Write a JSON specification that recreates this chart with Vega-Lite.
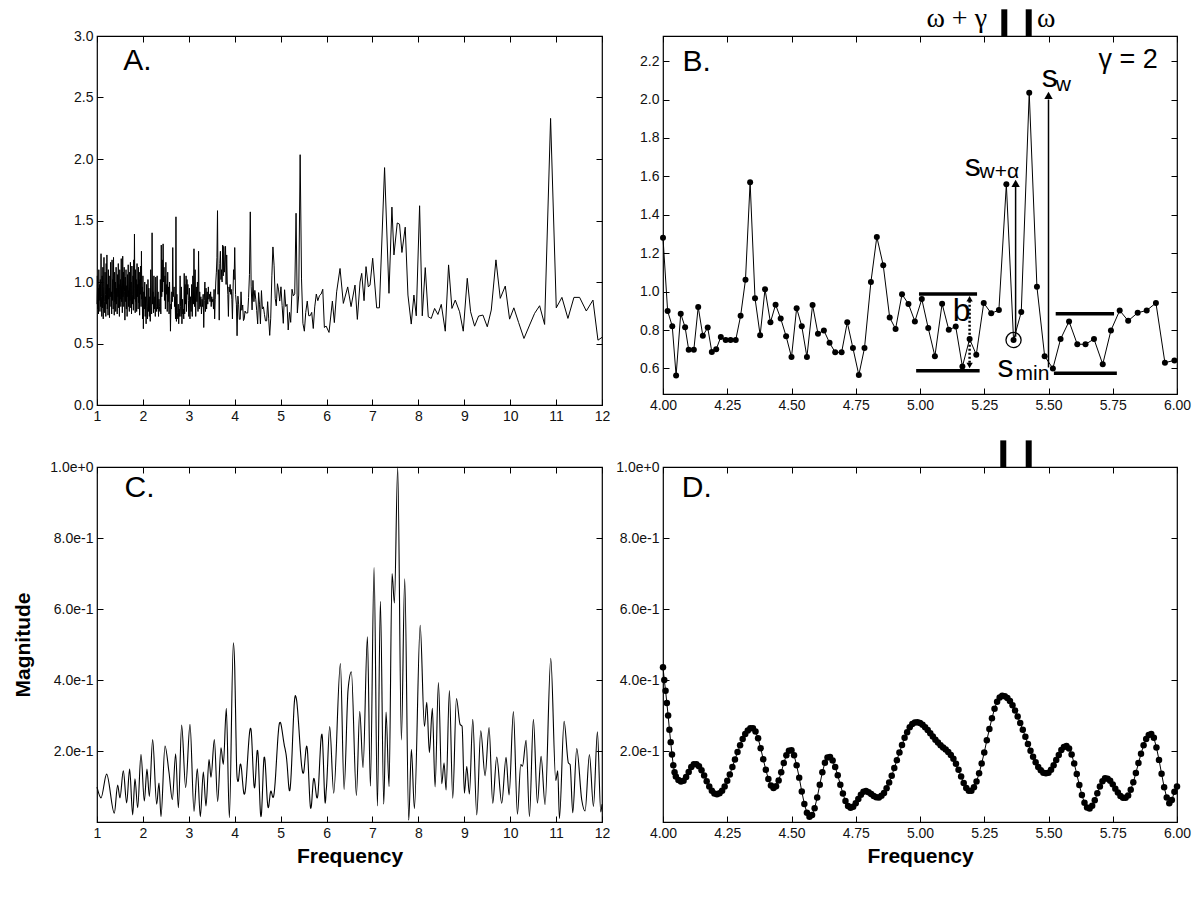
{
"$schema":"https://vega.github.io/schema/vega-lite/v6.json",
"padding":{"left":12,"top":4,"right":0,"bottom":0},
"config":{"view":{"stroke":"black","strokeWidth":1.2},"font":"Liberation Sans",
"axis":{"domain":false,"grid":false,"ticks":true,"tickSize":-6,"tickColor":"black","labelPadding":10,"labelFontSize":14,"labelColor":"#111","labelFont":"Liberation Sans","labelFlush":false,"labelOverlap":false,"titleFont":"Liberation Sans","titleFontSize":21,"titleFontWeight":"bold","titleColor":"black"}},
"datasets":{
"a":[
{"f":1.000,"v":0.82},{"f":1.008,"v":1.05},{"f":1.016,"v":0.78},{"f":1.024,"v":0.95},{"f":1.032,"v":0.74},{"f":1.040,"v":1.10},{"f":1.048,"v":0.85},{"f":1.056,"v":0.98},{"f":1.064,"v":0.76},{"f":1.072,"v":1.02},
{"f":1.080,"v":0.80},{"f":1.088,"v":1.23},{"f":1.096,"v":0.88},{"f":1.104,"v":0.72},{"f":1.112,"v":1.05},{"f":1.120,"v":0.79},{"f":1.128,"v":1.12},{"f":1.136,"v":0.70},{"f":1.144,"v":0.96},{"f":1.152,"v":1.20},
{"f":1.160,"v":0.84},{"f":1.168,"v":0.75},{"f":1.176,"v":1.08},{"f":1.184,"v":0.90},{"f":1.192,"v":0.72},{"f":1.200,"v":1.15},{"f":1.208,"v":0.82},{"f":1.216,"v":1.22},{"f":1.224,"v":0.78},{"f":1.232,"v":0.98},
{"f":1.240,"v":0.73},{"f":1.248,"v":1.10},{"f":1.256,"v":0.86},{"f":1.264,"v":0.95},{"f":1.272,"v":0.71},{"f":1.280,"v":1.05},{"f":1.288,"v":0.88},{"f":1.296,"v":1.16},{"f":1.304,"v":0.80},{"f":1.312,"v":0.92},
{"f":1.320,"v":0.74},{"f":1.328,"v":1.18},{"f":1.336,"v":0.85},{"f":1.344,"v":1.02},{"f":1.352,"v":0.78},{"f":1.360,"v":1.20},{"f":1.368,"v":0.90},{"f":1.376,"v":0.73},{"f":1.384,"v":1.08},{"f":1.392,"v":0.84},
{"f":1.400,"v":1.00},{"f":1.408,"v":0.76},{"f":1.416,"v":1.12},{"f":1.424,"v":0.82},{"f":1.432,"v":0.95},{"f":1.440,"v":0.74},{"f":1.448,"v":1.06},{"f":1.456,"v":0.88},{"f":1.464,"v":1.15},{"f":1.472,"v":0.79},
{"f":1.480,"v":0.98},{"f":1.488,"v":0.72},{"f":1.496,"v":1.10},{"f":1.504,"v":0.86},{"f":1.512,"v":1.02},{"f":1.520,"v":0.80},{"f":1.528,"v":1.19},{"f":1.536,"v":0.84},{"f":1.544,"v":0.96},{"f":1.552,"v":0.75},
{"f":1.560,"v":1.21},{"f":1.568,"v":0.88},{"f":1.576,"v":1.08},{"f":1.584,"v":0.80},{"f":1.592,"v":1.12},{"f":1.600,"v":0.92},{"f":1.608,"v":0.69},{"f":1.616,"v":1.04},{"f":1.624,"v":0.84},{"f":1.632,"v":1.10},
{"f":1.640,"v":0.78},{"f":1.648,"v":0.97},{"f":1.656,"v":0.72},{"f":1.664,"v":1.06},{"f":1.672,"v":0.88},{"f":1.680,"v":1.14},{"f":1.688,"v":0.80},{"f":1.696,"v":0.93},{"f":1.704,"v":0.76},{"f":1.712,"v":1.08},
{"f":1.720,"v":0.85},{"f":1.728,"v":1.16},{"f":1.736,"v":0.79},{"f":1.744,"v":1.00},{"f":1.752,"v":0.74},{"f":1.760,"v":1.13},{"f":1.768,"v":0.90},{"f":1.776,"v":0.82},{"f":1.784,"v":1.05},{"f":1.792,"v":0.77},
{"f":1.800,"v":1.18},{"f":1.808,"v":0.86},{"f":1.816,"v":1.39},{"f":1.824,"v":0.95},{"f":1.832,"v":0.75},{"f":1.840,"v":1.10},{"f":1.848,"v":0.84},{"f":1.856,"v":1.02},{"f":1.864,"v":0.76},{"f":1.872,"v":1.15},
{"f":1.880,"v":0.88},{"f":1.888,"v":0.98},{"f":1.896,"v":0.78},{"f":1.904,"v":1.12},{"f":1.912,"v":0.83},{"f":1.920,"v":1.08},{"f":1.928,"v":0.73},{"f":1.936,"v":1.02},{"f":1.944,"v":0.90},{"f":1.952,"v":1.13},
{"f":1.960,"v":0.80},{"f":1.968,"v":1.25},{"f":1.976,"v":0.86},{"f":1.984,"v":0.96},{"f":1.992,"v":0.70},{"f":2.000,"v":1.05},
{"f":2.01,"v":0.62},{"f":2.02,"v":0.92},{"f":2.03,"v":0.78},{"f":2.04,"v":1.00},{"f":2.05,"v":0.72},{"f":2.06,"v":0.88},{"f":2.07,"v":0.66},{"f":2.08,"v":0.98},{"f":2.09,"v":0.80},{"f":2.10,"v":0.70},
{"f":2.11,"v":1.02},{"f":2.12,"v":0.76},{"f":2.13,"v":0.95},{"f":2.14,"v":0.72},{"f":2.15,"v":0.88},{"f":2.16,"v":0.68},{"f":2.17,"v":1.10},{"f":2.18,"v":0.80},{"f":2.19,"v":0.74},{"f":2.20,"v":1.40},
{"f":2.21,"v":0.82},{"f":2.22,"v":0.92},{"f":2.23,"v":0.75},{"f":2.24,"v":1.05},{"f":2.25,"v":0.78},{"f":2.26,"v":0.88},{"f":2.27,"v":0.72},{"f":2.28,"v":1.04},{"f":2.29,"v":0.80},{"f":2.30,"v":0.76},
{"f":2.31,"v":1.05},{"f":2.32,"v":0.78},{"f":2.33,"v":0.92},{"f":2.34,"v":0.72},{"f":2.35,"v":0.86},{"f":2.36,"v":0.80},{"f":2.37,"v":0.76},{"f":2.38,"v":1.02},{"f":2.39,"v":0.74},{"f":2.40,"v":1.30},
{"f":2.41,"v":0.88},{"f":2.42,"v":1.18},{"f":2.43,"v":0.92},{"f":2.44,"v":1.31},{"f":2.45,"v":1.00},{"f":2.46,"v":1.12},{"f":2.47,"v":0.85},{"f":2.48,"v":1.05},{"f":2.49,"v":0.78},{"f":2.50,"v":1.16},
{"f":2.51,"v":0.90},{"f":2.52,"v":0.98},{"f":2.53,"v":0.76},{"f":2.54,"v":1.08},{"f":2.55,"v":0.84},{"f":2.56,"v":0.96},{"f":2.57,"v":0.74},{"f":2.58,"v":1.00},{"f":2.59,"v":0.86},{"f":2.60,"v":0.60},
{"f":2.61,"v":0.82},{"f":2.62,"v":0.78},{"f":2.63,"v":0.92},{"f":2.64,"v":0.84},{"f":2.65,"v":1.28},{"f":2.66,"v":0.88},{"f":2.67,"v":0.92},{"f":2.68,"v":0.96},{"f":2.69,"v":0.80},{"f":2.70,"v":0.88},
{"f":2.71,"v":0.70},{"f":2.72,"v":1.53},{"f":2.73,"v":0.68},{"f":2.74,"v":0.90},{"f":2.75,"v":0.75},{"f":2.76,"v":0.70},{"f":2.77,"v":0.82},{"f":2.78,"v":0.66},{"f":2.79,"v":0.78},{"f":2.80,"v":0.72},
{"f":2.81,"v":1.05},{"f":2.82,"v":0.80},{"f":2.83,"v":0.72},{"f":2.84,"v":0.96},{"f":2.85,"v":0.66},{"f":2.86,"v":0.86},{"f":2.87,"v":0.74},{"f":2.88,"v":0.78},{"f":2.89,"v":0.70},{"f":2.90,"v":1.07},
{"f":2.91,"v":0.74},{"f":2.92,"v":0.98},{"f":2.93,"v":0.82},{"f":2.94,"v":1.05},{"f":2.95,"v":0.76},{"f":2.96,"v":1.02},{"f":2.97,"v":0.90},{"f":2.98,"v":0.98},{"f":2.99,"v":0.85},{"f":3.00,"v":0.72},
{"f":3.0125,"v":0.95},{"f":3.025,"v":0.70},{"f":3.0375,"v":0.88},{"f":3.05,"v":0.76},{"f":3.0625,"v":0.98},{"f":3.075,"v":0.72},{"f":3.0875,"v":1.05},{"f":3.10,"v":0.82},{"f":3.1125,"v":1.27},{"f":3.125,"v":0.80},
{"f":3.1375,"v":1.10},{"f":3.15,"v":0.72},{"f":3.1625,"v":0.96},{"f":3.175,"v":0.84},{"f":3.1875,"v":1.00},{"f":3.20,"v":0.76},{"f":3.2125,"v":1.25},{"f":3.225,"v":0.78},{"f":3.2375,"v":0.92},{"f":3.25,"v":0.80},
{"f":3.2625,"v":0.88},{"f":3.275,"v":0.74},{"f":3.2875,"v":0.86},{"f":3.30,"v":0.80},{"f":3.3125,"v":0.90},{"f":3.325,"v":0.63},{"f":3.3375,"v":0.85},{"f":3.35,"v":1.00},{"f":3.3625,"v":0.76},{"f":3.375,"v":0.95},
{"f":3.3875,"v":0.78},{"f":3.40,"v":0.92},{"f":3.4125,"v":0.82},{"f":3.425,"v":0.96},{"f":3.4375,"v":0.86},{"f":3.45,"v":0.90},{"f":3.4625,"v":0.84},{"f":3.475,"v":0.92},{"f":3.4875,"v":0.80},{"f":3.50,"v":0.88},
{"f":3.5125,"v":0.84},{"f":3.525,"v":0.86},{"f":3.5375,"v":0.78},{"f":3.55,"v":0.94},{"f":3.5625,"v":0.70},{"f":3.575,"v":0.86},{"f":3.5875,"v":1.00},{"f":3.60,"v":1.08},{"f":3.6125,"v":1.20},{"f":3.625,"v":1.58},
{"f":3.6375,"v":0.90},{"f":3.65,"v":1.10},{"f":3.6625,"v":0.69},{"f":3.675,"v":1.15},{"f":3.6875,"v":1.25},{"f":3.70,"v":1.02},{"f":3.7125,"v":1.10},{"f":3.725,"v":1.00},{"f":3.7375,"v":1.30},{"f":3.75,"v":1.05},
{"f":3.7625,"v":1.29},{"f":3.775,"v":1.08},{"f":3.7875,"v":1.18},{"f":3.80,"v":1.29},{"f":3.8125,"v":0.98},{"f":3.825,"v":1.22},{"f":3.8375,"v":1.00},{"f":3.85,"v":0.90},{"f":3.8625,"v":0.72},{"f":3.875,"v":0.96},
{"f":3.8875,"v":0.92},{"f":3.90,"v":0.98},{"f":3.9125,"v":0.90},{"f":3.925,"v":0.94},{"f":3.9375,"v":0.86},{"f":3.95,"v":0.70},{"f":3.9625,"v":0.92},{"f":3.975,"v":1.10},{"f":3.9875,"v":1.02},
{"f":4.000,"v":1.28},{"f":4.018,"v":0.899},{"f":4.036,"v":0.82},{"f":4.051,"v":0.563},{"f":4.069,"v":0.885},{"f":4.086,"v":0.815},{"f":4.100,"v":0.697},{"f":4.120,"v":0.697},{"f":4.137,"v":0.92},{"f":4.155,"v":0.77},
{"f":4.174,"v":0.813},{"f":4.190,"v":0.686},{"f":4.207,"v":0.70},{"f":4.225,"v":0.764},{"f":4.244,"v":0.748},{"f":4.263,"v":0.748},{"f":4.283,"v":0.748},{"f":4.302,"v":0.874},{"f":4.321,"v":1.062},{"f":4.339,"v":1.57},
{"f":4.358,"v":0.966},{"f":4.378,"v":0.773},{"f":4.397,"v":1.013},{"f":4.418,"v":0.84},{"f":4.438,"v":0.932},{"f":4.458,"v":0.86},{"f":4.479,"v":0.768},{"f":4.500,"v":0.659},{"f":4.520,"v":0.914},{"f":4.540,"v":0.82},
{"f":4.560,"v":0.66},{"f":4.582,"v":0.93},{"f":4.603,"v":0.781},{"f":4.626,"v":0.798},{"f":4.648,"v":0.734},{"f":4.670,"v":0.684},{"f":4.695,"v":0.684},{"f":4.717,"v":0.84},{"f":4.739,"v":0.706},{"f":4.762,"v":0.566},
{"f":4.784,"v":0.706},{"f":4.809,"v":1.05},{"f":4.832,"v":1.285},{"f":4.857,"v":1.137},{"f":4.882,"v":0.865},{"f":4.905,"v":0.806},{"f":4.930,"v":0.986},{"f":4.955,"v":0.936},{"f":4.980,"v":0.845},{"f":5.007,"v":0.961},
{"f":5.032,"v":0.81},{"f":5.058,"v":0.664},{"f":5.086,"v":0.937},{"f":5.112,"v":0.801},{"f":5.139,"v":0.818},{"f":5.165,"v":0.61},{"f":5.193,"v":0.753},{"f":5.219,"v":0.672},{"f":5.248,"v":0.941},{"f":5.277,"v":0.887},
{"f":5.307,"v":0.904},{"f":5.336,"v":1.559},{"f":5.364,"v":0.748},{"f":5.394,"v":0.894},{"f":5.425,"v":2.035},{"f":5.455,"v":1.025},{"f":5.485,"v":0.664},{"f":5.517,"v":0.60},{"f":5.547,"v":0.753},{"f":5.580,"v":0.845},
{"f":5.612,"v":0.726},{"f":5.644,"v":0.726},{"f":5.677,"v":0.753},{"f":5.711,"v":0.622},{"f":5.743,"v":0.798},{"f":5.777,"v":0.902},{"f":5.810,"v":0.848},{"f":5.847,"v":0.89},{"f":5.882,"v":0.902},{"f":5.918,"v":0.941},
{"f":5.953,"v":0.63},{"f":5.990,"v":0.642},
{"f":6.054,"v":0.59},{"f":6.127,"v":0.845},{"f":6.17,"v":0.67},{"f":6.22,"v":0.92},{"f":6.294,"v":1.11},{"f":6.366,"v":0.826},{"f":6.461,"v":0.96},{"f":6.534,"v":0.80},{"f":6.62,"v":0.975},{"f":6.671,"v":0.696},
{"f":6.73,"v":1.0},{"f":6.766,"v":1.07},{"f":6.817,"v":0.848},{"f":6.86,"v":1.125},{"f":6.91,"v":0.96},{"f":6.947,"v":0.975},{"f":7.005,"v":1.193},{"f":7.092,"v":0.79},{"f":7.151,"v":0.79},{"f":7.264,"v":1.93},
{"f":7.36,"v":0.908},{"f":7.424,"v":1.609},{"f":7.468,"v":1.22},{"f":7.54,"v":1.48},{"f":7.59,"v":1.47},{"f":7.642,"v":1.24},{"f":7.714,"v":1.446},{"f":7.773,"v":0.894},{"f":7.845,"v":0.658},{"f":7.903,"v":0.894},
{"f":7.954,"v":0.725},{"f":8.027,"v":1.62},{"f":8.085,"v":0.725},{"f":8.15,"v":1.117},{"f":8.216,"v":0.717},{"f":8.281,"v":0.704},{"f":8.354,"v":0.785},{"f":8.426,"v":0.736},{"f":8.499,"v":0.818},{"f":8.586,"v":0.60},
{"f":8.658,"v":1.139},{"f":8.731,"v":0.785},{"f":8.804,"v":0.853},{"f":8.898,"v":0.758},{"f":8.978,"v":0.60},{"f":9.065,"v":1.03},{"f":9.138,"v":0.758},{"f":9.225,"v":0.641},{"f":9.312,"v":0.723},{"f":9.406,"v":0.731},
{"f":9.501,"v":0.636},{"f":9.588,"v":0.772},{"f":9.69,"v":1.18},{"f":9.784,"v":0.867},{"f":9.893,"v":0.967},{"f":9.987,"v":0.698},{"f":10.08,"v":0.79},{"f":10.183,"v":0.671},{"f":10.30,"v":0.541},{"f":10.423,"v":0.65},
{"f":10.532,"v":0.745},{"f":10.641,"v":0.807},{"f":10.75,"v":0.655},{"f":10.88,"v":2.33},{"f":11.004,"v":0.79},{"f":11.127,"v":0.875},{"f":11.258,"v":0.704},{"f":11.389,"v":0.875},{"f":11.512,"v":0.875},{"f":11.658,"v":0.764},
{"f":11.803,"v":0.853},{"f":11.912,"v":0.527},{"f":12.0,"v":0.55}
],
"c":[
{"f":1.000,"v":0.098},{"f":1.087,"v":0.068},{"f":1.21,"v":0.135},{"f":1.377,"v":0.025},{"f":1.45,"v":0.104},{"f":1.5,"v":0.068},{"f":1.573,"v":0.144},{"f":1.646,"v":0.054},{"f":1.711,"v":0.149},{"f":1.777,"v":0.02},
{"f":1.827,"v":0.122},{"f":1.886,"v":0.04},{"f":1.958,"v":0.191},{"f":2.031,"v":0.059},{"f":2.089,"v":0.149},{"f":2.14,"v":0.072},{"f":2.212,"v":0.232},{"f":2.3,"v":0.05},{"f":2.35,"v":0.11},{"f":2.394,"v":0.015},
{"f":2.481,"v":0.214},{"f":2.568,"v":0.14},{"f":2.641,"v":0.063},{"f":2.713,"v":0.192},{"f":2.772,"v":0.04},{"f":2.844,"v":0.273},{"f":2.931,"v":0.097},{"f":3.026,"v":0.275},{"f":3.113,"v":0.03},{"f":3.185,"v":0.15},
{"f":3.251,"v":0.015},{"f":3.316,"v":0.141},{"f":3.374,"v":0.045},{"f":3.44,"v":0.176},{"f":3.483,"v":0.126},{"f":3.556,"v":0.232},{"f":3.628,"v":0.058},{"f":3.701,"v":0.209},{"f":3.752,"v":0.162},{"f":3.817,"v":0.32},
{"f":3.883,"v":0.012},{"f":3.97,"v":0.505},
{"f":4.000,"v":0.436},{"f":4.005,"v":0.40},{"f":4.010,"v":0.37},{"f":4.015,"v":0.335},{"f":4.020,"v":0.30},{"f":4.025,"v":0.26},{"f":4.030,"v":0.225},{"f":4.035,"v":0.19},{"f":4.040,"v":0.16},{"f":4.045,"v":0.14},
{"f":4.050,"v":0.128},{"f":4.060,"v":0.118},{"f":4.070,"v":0.114},{"f":4.080,"v":0.116},{"f":4.090,"v":0.127},{"f":4.100,"v":0.141},{"f":4.110,"v":0.155},{"f":4.120,"v":0.163},{"f":4.130,"v":0.163},{"f":4.140,"v":0.157},
{"f":4.150,"v":0.146},{"f":4.160,"v":0.131},{"f":4.170,"v":0.115},{"f":4.180,"v":0.100},{"f":4.190,"v":0.088},{"f":4.200,"v":0.080},{"f":4.210,"v":0.078},{"f":4.220,"v":0.081},{"f":4.230,"v":0.088},{"f":4.240,"v":0.100},
{"f":4.250,"v":0.116},{"f":4.260,"v":0.134},{"f":4.270,"v":0.155},{"f":4.280,"v":0.176},{"f":4.290,"v":0.197},{"f":4.300,"v":0.216},{"f":4.310,"v":0.234},{"f":4.320,"v":0.248},{"f":4.330,"v":0.258},{"f":4.340,"v":0.264},
{"f":4.350,"v":0.264},{"f":4.360,"v":0.255},{"f":4.370,"v":0.236},{"f":4.380,"v":0.208},{"f":4.390,"v":0.177},{"f":4.400,"v":0.147},{"f":4.410,"v":0.121},{"f":4.420,"v":0.103},{"f":4.430,"v":0.096},{"f":4.440,"v":0.101},
{"f":4.450,"v":0.117},{"f":4.460,"v":0.140},{"f":4.470,"v":0.166},{"f":4.480,"v":0.188},{"f":4.490,"v":0.201},{"f":4.500,"v":0.202},{"f":4.510,"v":0.188},{"f":4.520,"v":0.160},{"f":4.530,"v":0.125},{"f":4.540,"v":0.086},
{"f":4.550,"v":0.051},{"f":4.560,"v":0.026},{"f":4.570,"v":0.015},{"f":4.580,"v":0.020},{"f":4.590,"v":0.039},{"f":4.600,"v":0.069},{"f":4.610,"v":0.105},{"f":4.620,"v":0.140},{"f":4.630,"v":0.167},{"f":4.640,"v":0.182},
{"f":4.650,"v":0.183},{"f":4.660,"v":0.173},{"f":4.670,"v":0.155},{"f":4.680,"v":0.132},{"f":4.690,"v":0.105},{"f":4.700,"v":0.080},{"f":4.710,"v":0.059},{"f":4.720,"v":0.045},{"f":4.730,"v":0.040},{"f":4.740,"v":0.043},
{"f":4.750,"v":0.053},{"f":4.760,"v":0.065},{"f":4.770,"v":0.077},{"f":4.780,"v":0.085},{"f":4.790,"v":0.087},{"f":4.800,"v":0.084},{"f":4.810,"v":0.079},{"f":4.820,"v":0.073},{"f":4.830,"v":0.070},{"f":4.840,"v":0.069},
{"f":4.850,"v":0.074},{"f":4.860,"v":0.082},{"f":4.870,"v":0.095},{"f":4.880,"v":0.111},{"f":4.890,"v":0.130},{"f":4.900,"v":0.152},{"f":4.910,"v":0.174},{"f":4.920,"v":0.196},{"f":4.930,"v":0.217},{"f":4.940,"v":0.237},
{"f":4.950,"v":0.253},{"f":4.960,"v":0.267},{"f":4.970,"v":0.276},{"f":4.980,"v":0.280},{"f":4.990,"v":0.281},{"f":5.000,"v":0.279},{"f":5.010,"v":0.274},{"f":5.020,"v":0.267},{"f":5.030,"v":0.259},{"f":5.040,"v":0.250},
{"f":5.050,"v":0.241},{"f":5.060,"v":0.232},{"f":5.070,"v":0.224},{"f":5.080,"v":0.216},{"f":5.090,"v":0.210},{"f":5.100,"v":0.204},{"f":5.110,"v":0.197},{"f":5.120,"v":0.189},{"f":5.130,"v":0.178},{"f":5.140,"v":0.164},
{"f":5.150,"v":0.147},{"f":5.160,"v":0.128},{"f":5.170,"v":0.110},{"f":5.180,"v":0.096},{"f":5.190,"v":0.088},{"f":5.200,"v":0.088},{"f":5.210,"v":0.098},{"f":5.220,"v":0.114},{"f":5.230,"v":0.137},{"f":5.240,"v":0.165},
{"f":5.250,"v":0.196},{"f":5.260,"v":0.230},{"f":5.270,"v":0.262},{"f":5.280,"v":0.292},{"f":5.290,"v":0.319},{"f":5.300,"v":0.339},{"f":5.310,"v":0.351},{"f":5.320,"v":0.356},{"f":5.330,"v":0.354},{"f":5.340,"v":0.349},
{"f":5.350,"v":0.341},{"f":5.360,"v":0.329},{"f":5.370,"v":0.314},{"f":5.380,"v":0.297},{"f":5.390,"v":0.279},{"f":5.400,"v":0.260},{"f":5.410,"v":0.240},{"f":5.420,"v":0.220},{"f":5.430,"v":0.201},{"f":5.440,"v":0.184},
{"f":5.450,"v":0.168},{"f":5.460,"v":0.155},{"f":5.470,"v":0.146},{"f":5.480,"v":0.139},{"f":5.490,"v":0.137},{"f":5.500,"v":0.139},{"f":5.510,"v":0.147},{"f":5.520,"v":0.160},{"f":5.530,"v":0.175},{"f":5.540,"v":0.189},
{"f":5.550,"v":0.203},{"f":5.560,"v":0.211},{"f":5.570,"v":0.214},{"f":5.580,"v":0.207},{"f":5.590,"v":0.190},{"f":5.600,"v":0.165},{"f":5.610,"v":0.135},{"f":5.620,"v":0.104},{"f":5.630,"v":0.076},{"f":5.640,"v":0.054},
{"f":5.650,"v":0.041},{"f":5.660,"v":0.038},{"f":5.670,"v":0.046},{"f":5.680,"v":0.061},{"f":5.690,"v":0.081},{"f":5.700,"v":0.100},{"f":5.710,"v":0.115},{"f":5.720,"v":0.123},{"f":5.730,"v":0.122},{"f":5.740,"v":0.116},
{"f":5.750,"v":0.106},{"f":5.760,"v":0.094},{"f":5.770,"v":0.083},{"f":5.780,"v":0.073},{"f":5.790,"v":0.068},{"f":5.800,"v":0.068},{"f":5.810,"v":0.075},{"f":5.820,"v":0.091},{"f":5.830,"v":0.112},{"f":5.840,"v":0.138},
{"f":5.850,"v":0.166},{"f":5.860,"v":0.192},{"f":5.870,"v":0.216},{"f":5.880,"v":0.234},{"f":5.890,"v":0.245},{"f":5.900,"v":0.248},{"f":5.910,"v":0.237},{"f":5.920,"v":0.210},{"f":5.930,"v":0.175},{"f":5.940,"v":0.136},
{"f":5.950,"v":0.098},{"f":5.960,"v":0.069},{"f":5.970,"v":0.053},{"f":5.980,"v":0.062},{"f":5.990,"v":0.085},{"f":6.000,"v":0.100},
{"f":6.069,"v":0.269},{"f":6.156,"v":0.081},{"f":6.302,"v":0.446},{"f":6.382,"v":0.092},{"f":6.469,"v":0.373},{"f":6.541,"v":0.423},{"f":6.65,"v":0.075},{"f":6.723,"v":0.312},{"f":6.795,"v":0.153},{"f":6.89,"v":0.522},
{"f":6.955,"v":0.101},{"f":7.035,"v":0.717},{"f":7.108,"v":0.045},{"f":7.173,"v":0.622},{"f":7.246,"v":0.05},{"f":7.296,"v":0.31},{"f":7.362,"v":0.10},{"f":7.427,"v":0.70},{"f":7.478,"v":0.617},{"f":7.55,"v":1.0},
{"f":7.63,"v":0.231},{"f":7.703,"v":0.685},{"f":7.79,"v":0.005},{"f":7.848,"v":0.205},{"f":7.914,"v":0.038},{"f":8.04,"v":0.554},{"f":8.132,"v":0.269},{"f":8.183,"v":0.337},{"f":8.24,"v":0.196},{"f":8.305,"v":0.32},
{"f":8.364,"v":0.099},{"f":8.437,"v":0.393},{"f":8.509,"v":0.108},{"f":8.56,"v":0.166},{"f":8.604,"v":0.09},{"f":8.676,"v":0.37},{"f":8.749,"v":0.067},{"f":8.829,"v":0.348},{"f":8.909,"v":0.275},{"f":8.952,"v":0.27},
{"f":9.003,"v":0.081},{"f":9.054,"v":0.157},{"f":9.112,"v":0.079},{"f":9.185,"v":0.289},{"f":9.272,"v":0.02},{"f":9.359,"v":0.257},{"f":9.453,"v":0.13},{"f":9.54,"v":0.266},{"f":9.62,"v":0.053},{"f":9.707,"v":0.183},
{"f":9.816,"v":0.053},{"f":9.91,"v":0.182},{"f":9.976,"v":0.076},{"f":10.07,"v":0.311},{"f":10.158,"v":0.022},{"f":10.23,"v":0.162},{"f":10.267,"v":0.157},{"f":10.347,"v":0.23},{"f":10.42,"v":0.015},{"f":10.506,"v":0.289},
{"f":10.593,"v":0.053},{"f":10.673,"v":0.185},{"f":10.76,"v":0.049},{"f":10.884,"v":0.461},{"f":10.993,"v":0.117},{"f":11.036,"v":0.144},{"f":11.073,"v":0.01},{"f":11.174,"v":0.284},{"f":11.269,"v":0.166},{"f":11.305,"v":0.162},
{"f":11.363,"v":0.026},{"f":11.45,"v":0.207},{"f":11.559,"v":0.062},{"f":11.632,"v":0.031},{"f":11.726,"v":0.19},{"f":11.814,"v":0.044},{"f":11.9,"v":0.254},{"f":11.973,"v":0.028},{"f":12.0,"v":0.05}
]},
"columns":2,
"spacing":{"row":12,"column":4},
"concat":[
{"width":505,"height":369,"data":{"name":"a"},
 "layer":[
  {"mark":{"type":"line","color":"black","strokeWidth":1},
   "encoding":{"x":{"field":"f","type":"quantitative","scale":{"domain":[1,12],"nice":false,"zero":false},"axis":{"values":[1,2,3,4,5,6,7,8,9,10,11,12],"format":"d","title":null}},
    "y":{"field":"v","type":"quantitative","scale":{"domain":[0,3],"nice":false,"zero":false},"axis":{"values":[0,0.5,1,1.5,2,2.5,3],"format":".1f","title":null}}}},
  {"mark":{"type":"line","strokeOpacity":0},
   "encoding":{"x":{"field":"f","type":"quantitative","axis":{"orient":"top","values":[1,2,3,4,5,6,7,8,9,10,11,12],"labels":false,"title":null}},
    "y":{"field":"v","type":"quantitative","axis":{"orient":"right","values":[0,0.5,1,1.5,2,2.5,3],"labels":false,"title":null}}}},
  {"data":{"values":[{"x":1.57,"y":2.72,"t":"A."}]},"mark":{"type":"text","fontSize":30,"align":"left","baseline":"alphabetic","color":"black"},
   "encoding":{"x":{"field":"x","type":"quantitative","axis":null},"y":{"field":"y","type":"quantitative","axis":null},"text":{"field":"t"}}}
 ],
 "resolve":{"axis":{"x":"independent","y":"independent"}}},
{"width":514,"height":358,"data":{"name":"a"},
 "transform":[{"filter":"datum.f >= 4 && datum.f <= 6.001"}],
 "layer":[
  {"mark":{"type":"line","color":"black","strokeWidth":1},
   "encoding":{"x":{"field":"f","type":"quantitative","scale":{"domain":[4,6],"nice":false,"zero":false},"axis":{"values":[4,4.25,4.5,4.75,5,5.25,5.5,5.75,6],"format":".2f","title":null}},
    "y":{"field":"v","type":"quantitative","scale":{"domain":[0.467,2.331],"nice":false,"zero":false},"axis":{"values":[0.6,0.8,1,1.2,1.4,1.6,1.8,2,2.2],"format":".1f","title":null}}}},
  {"mark":{"type":"point","filled":true,"color":"black","size":36,"opacity":1},
   "encoding":{"x":{"field":"f","type":"quantitative","axis":null},"y":{"field":"v","type":"quantitative","axis":null}}},
  {"mark":{"type":"line","strokeOpacity":0},
   "encoding":{"x":{"field":"f","type":"quantitative","axis":{"orient":"top","values":[4,4.25,4.5,4.75,5,5.25,5.5,5.75,6],"labels":false,"title":null}},
    "y":{"field":"v","type":"quantitative","axis":{"orient":"right","values":[0.6,0.8,1,1.2,1.4,1.6,1.8,2,2.2],"labels":false,"title":null}}}},
  {"data":{"values":[{"x1":4.996,"x2":5.222,"y":0.988},{"x1":4.985,"x2":5.232,"y":0.588},{"x1":5.528,"x2":5.755,"y":0.885},{"x1":5.521,"x2":5.766,"y":0.575}]},
   "mark":{"type":"rule","strokeWidth":3.5,"color":"black"},
   "encoding":{"x":{"field":"x1","type":"quantitative","axis":null},"x2":{"field":"x2"},"y":{"field":"y","type":"quantitative","axis":null}}},
  {"data":{"values":[{"x":5.5,"y1":0.605,"y2":2.0},{"x":5.372,"y1":0.765,"y2":1.55}]},
   "mark":{"type":"rule","strokeWidth":1.5,"color":"black"},
   "encoding":{"x":{"field":"x","type":"quantitative","axis":null},"y":{"field":"y1","type":"quantitative","axis":null},"y2":{"field":"y2"}}},
  {"data":{"values":[{"x":5.193,"y1":0.63,"y2":0.955}]},
   "mark":{"type":"rule","strokeWidth":2.5,"strokeDash":[2,2],"color":"black"},
   "encoding":{"x":{"field":"x","type":"quantitative","axis":null},"y":{"field":"y1","type":"quantitative","axis":null},"y2":{"field":"y2"}}},
  {"data":{"values":[{"x":5.5,"y":2.022},{"x":5.372,"y":1.564}]},
   "mark":{"type":"point","shape":"triangle-up","filled":true,"color":"black","size":70,"opacity":1},
   "encoding":{"x":{"field":"x","type":"quantitative","axis":null},"y":{"field":"y","type":"quantitative","axis":null}}},
  {"data":{"values":[{"x":5.193,"y":0.963}]},
   "mark":{"type":"point","shape":"triangle-up","filled":true,"color":"black","size":40,"opacity":1},
   "encoding":{"x":{"field":"x","type":"quantitative","axis":null},"y":{"field":"y","type":"quantitative","axis":null}}},
  {"data":{"values":[{"x":5.193,"y":0.615}]},
   "mark":{"type":"point","shape":"triangle-down","filled":true,"color":"black","size":40,"opacity":1},
   "encoding":{"x":{"field":"x","type":"quantitative","axis":null},"y":{"field":"y","type":"quantitative","axis":null}}},
  {"data":{"values":[{"x":5.364,"y":0.748}]},
   "mark":{"type":"point","shape":"circle","filled":false,"color":"black","size":230,"strokeWidth":1.3,"opacity":1},
   "encoding":{"x":{"field":"x","type":"quantitative","axis":null},"y":{"field":"y","type":"quantitative","axis":null}}},
  {"data":{"values":[{"x":5.474,"y":2.065,"t":"s"},{"x":5.174,"y":1.604,"t":"s"},{"x":5.302,"y":0.555,"t":"s"},{"x":5.127,"y":0.848,"t":"b"}]},
   "mark":{"type":"text","fontSize":32,"align":"left","baseline":"alphabetic","color":"black"},
   "encoding":{"x":{"field":"x","type":"quantitative","axis":null},"y":{"field":"y","type":"quantitative","axis":null},"text":{"field":"t"}}},
  {"data":{"values":[{"x":5.528,"y":2.045,"t":"w"},{"x":5.232,"y":1.59,"t":"w+α"},{"x":5.372,"y":0.54,"t":"min"}]},
   "mark":{"type":"text","fontSize":21,"align":"left","baseline":"alphabetic","color":"black"},
   "encoding":{"x":{"field":"x","type":"quantitative","axis":null},"y":{"field":"y","type":"quantitative","axis":null},"text":{"field":"t"}}},
  {"data":{"values":[{"x":4.076,"y":2.15,"t":"B."}]},
   "mark":{"type":"text","fontSize":30,"align":"left","baseline":"alphabetic","color":"black"},
   "encoding":{"x":{"field":"x","type":"quantitative","axis":null},"y":{"field":"y","type":"quantitative","axis":null},"text":{"field":"t"}}},
  {"data":{"values":[{"x":5.925,"y":2.165,"t":"γ = 2"}]},
   "mark":{"type":"text","fontSize":27,"align":"right","baseline":"alphabetic","color":"black"},
   "encoding":{"x":{"field":"x","type":"quantitative","axis":null},"y":{"field":"y","type":"quantitative","axis":null},"text":{"field":"t"}}},
  {"data":{"values":[{"x":5.025,"y":2.376,"t":"ω + γ"},{"x":5.455,"y":2.376,"t":"ω"}]},
   "mark":{"type":"text","font":"Liberation Serif","fontSize":28,"align":"left","baseline":"alphabetic","color":"black"},
   "encoding":{"x":{"field":"x","type":"quantitative","axis":null},"y":{"field":"y","type":"quantitative","axis":null},"text":{"field":"t"}}},
  {"data":{"values":[{"x":5.328,"y1":2.331,"y2":2.47},{"x":5.423,"y1":2.331,"y2":2.47}]},
   "mark":{"type":"rule","strokeWidth":6,"color":"black"},
   "encoding":{"x":{"field":"x","type":"quantitative","axis":null},"y":{"field":"y1","type":"quantitative","axis":null},"y2":{"field":"y2"}}}
 ],
 "resolve":{"axis":{"x":"independent","y":"independent"}}},
{"width":505,"height":355,"data":{"name":"c"},
 "layer":[
  {"mark":{"type":"line","color":"black","strokeWidth":1.1,"interpolate":"monotone"},
   "encoding":{"x":{"field":"f","type":"quantitative","scale":{"domain":[1,12],"nice":false,"zero":false},"axis":{"values":[1,2,3,4,5,6,7,8,9,10,11,12],"format":"d","title":"Frequency","titlePadding":5}},
    "y":{"field":"v","type":"quantitative","scale":{"domain":[0,1],"nice":false,"zero":false},"axis":{"values":[0.2,0.4,0.6,0.8,1],"format":".1e","title":"Magnitude","titlePadding":16}}}},
  {"mark":{"type":"line","strokeOpacity":0},
   "encoding":{"x":{"field":"f","type":"quantitative","axis":{"orient":"top","values":[1,2,3,4,5,6,7,8,9,10,11,12],"labels":false,"title":null}},
    "y":{"field":"v","type":"quantitative","axis":{"orient":"right","values":[0.2,0.4,0.6,0.8,1],"labels":false,"title":null}}}},
  {"data":{"values":[{"x":1.6,"y":0.916,"t":"C."}]},"mark":{"type":"text","fontSize":30,"align":"left","baseline":"alphabetic","color":"black"},
   "encoding":{"x":{"field":"x","type":"quantitative","axis":null},"y":{"field":"y","type":"quantitative","axis":null},"text":{"field":"t"}}}
 ],
 "resolve":{"axis":{"x":"independent","y":"independent"}}},
{"width":514,"height":355,"data":{"name":"c"},
 "transform":[{"filter":"datum.f >= 4 && datum.f <= 6.001"}],
 "layer":[
  {"mark":{"type":"line","color":"black","strokeWidth":1},
   "encoding":{"x":{"field":"f","type":"quantitative","scale":{"domain":[4,6],"nice":false,"zero":false},"axis":{"values":[4,4.25,4.5,4.75,5,5.25,5.5,5.75,6],"format":".2f","title":"Frequency","titlePadding":5}},
    "y":{"field":"v","type":"quantitative","scale":{"domain":[0,1],"nice":false,"zero":false},"axis":{"values":[0.2,0.4,0.6,0.8,1],"format":".1e","title":null}}}},
  {"mark":{"type":"point","filled":true,"color":"black","size":42,"opacity":1},
   "encoding":{"x":{"field":"f","type":"quantitative","axis":null},"y":{"field":"v","type":"quantitative","axis":null}}},
  {"mark":{"type":"line","strokeOpacity":0},
   "encoding":{"x":{"field":"f","type":"quantitative","axis":{"orient":"top","values":[4,4.25,4.5,4.75,5,5.25,5.5,5.75,6],"labels":false,"title":null}},
    "y":{"field":"v","type":"quantitative","axis":{"orient":"right","values":[0.2,0.4,0.6,0.8,1],"labels":false,"title":null}}}},
  {"data":{"values":[{"x":4.073,"y":0.916,"t":"D."}]},"mark":{"type":"text","fontSize":30,"align":"left","baseline":"alphabetic","color":"black"},
   "encoding":{"x":{"field":"x","type":"quantitative","axis":null},"y":{"field":"y","type":"quantitative","axis":null},"text":{"field":"t"}}},
  {"data":{"values":[{"x":5.324,"y1":1.0,"y2":1.075},{"x":5.423,"y1":1.0,"y2":1.075}]},
   "mark":{"type":"rule","strokeWidth":6,"color":"black"},
   "encoding":{"x":{"field":"x","type":"quantitative","axis":null},"y":{"field":"y1","type":"quantitative","axis":null},"y2":{"field":"y2"}}}
 ],
 "resolve":{"axis":{"x":"independent","y":"independent"}}}
]
}
